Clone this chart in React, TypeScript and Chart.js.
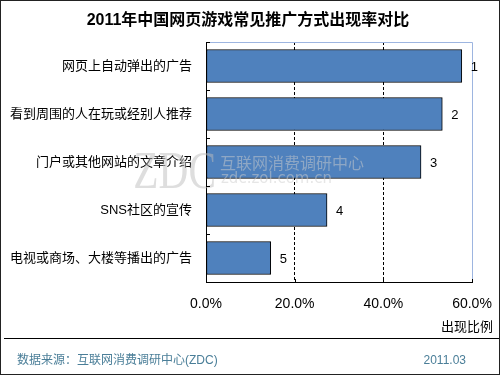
import React, { useEffect, useRef } from "react";
import { Chart, registerables } from "chart.js";

Chart.register(...registerables);

const categories = [
  "网页上自动弹出的广告",
  "看到周围的人在玩或经别人推荐",
  "门户或其他网站的文章介绍",
  "SNS社区的宣传",
  "电视或商场、大楼等播出的广告",
];
const values = [0.577, 0.533, 0.485, 0.273, 0.146];
const rankLabels = ["1", "2", "3", "4", "5"];
const xTicks = [0, 0.2, 0.4, 0.6];
const titleText = "2011年中国网页游戏常见推广方式出现率对比";
const axisTitle = "出现比例";
const sourceText = "数据来源：互联网消费调研中心(ZDC)";
const dateText = "2011.03";

const FONT = '"Liberation Sans", Arial, "Noto Sans CJK SC", sans-serif';

const decorPlugin = {
  id: "decor",
  beforeDraw(chart: any) {
    const { ctx } = chart;
    ctx.save();
    ctx.fillStyle = "#ffffff";
    ctx.fillRect(0, 0, 500, 375);
    ctx.restore();
  },
  afterDatasetsDraw(chart: any) {
    const { ctx, chartArea: a, scales } = chart;
    ctx.save();
    // watermark
    ctx.save();
    ctx.translate(216, 188);
    ctx.scale(0.78, 1);
    ctx.fillStyle = "rgba(190,190,190,0.5)";
    ctx.font = '53px "Liberation Serif", "DejaVu Serif", serif';
    ctx.textAlign = "right";
    ctx.textBaseline = "alphabetic";
    ctx.fillText("ZDC", 0, 0);
    ctx.restore();
    ctx.fillStyle = "rgba(205,205,205,0.5)";
    ctx.font = '16px "Noto Sans CJK SC", sans-serif';
    ctx.textAlign = "left";
    ctx.textBaseline = "middle";
    ctx.fillText("互联网消费调研中心", 220, 163);
    ctx.font = '15px "DejaVu Sans", sans-serif';
    ctx.fillText("zdc.zol.com.cn", 221, 179);

    // top & right border (light blue)
    ctx.strokeStyle = "#9db5e0";
    ctx.lineWidth = 1;
    ctx.beginPath();
    ctx.moveTo(a.left, Math.round(a.top) + 0.5);
    ctx.lineTo(Math.round(a.right) + 0.5, Math.round(a.top) + 0.5);
    ctx.lineTo(Math.round(a.right) + 0.5, a.bottom);
    ctx.stroke();

    // inner tick marks on y axis at category boundaries
    ctx.strokeStyle = "#000";
    ctx.beginPath();
    for (let i = 0; i <= categories.length; i++) {
      const py = Math.round(a.top + ((a.bottom - a.top) * i) / categories.length) + 0.5;
      ctx.moveTo(a.left, py);
      ctx.lineTo(a.left + 4, py);
    }
    // inner tick marks on x axis
    const x = scales.x;
    xTicks.forEach((v) => {
      const px = Math.round(x.getPixelForValue(v)) + 0.5;
      ctx.moveTo(px, a.bottom);
      ctx.lineTo(px, a.bottom - 3);
    });
    ctx.stroke();

    // rank labels
    const meta = chart.getDatasetMeta(0);
    ctx.fillStyle = "#000";
    ctx.font = "13px " + FONT;
    ctx.textAlign = "left";
    ctx.textBaseline = "middle";
    meta.data.forEach((bar: any, i: number) => {
      ctx.fillText(rankLabels[i], bar.x + 9, bar.y + 1);
    });

    // title
    ctx.font = "bold 16px " + FONT;
    ctx.textAlign = "center";
    ctx.fillText(titleText, 248, 21);

    // axis title
    ctx.font = "13px " + FONT;
    ctx.textAlign = "right";
    ctx.fillText(axisTitle, 493, 327);

    // separator
    ctx.strokeStyle = "#000";
    ctx.beginPath();
    ctx.moveTo(4, 338.5);
    ctx.lineTo(499, 338.5);
    ctx.stroke();

    // footer
    ctx.fillStyle = "#4a7e98";
    ctx.font = "12px " + FONT;
    ctx.textAlign = "left";
    ctx.fillText(sourceText, 17, 361);
    ctx.textAlign = "right";
    ctx.fillText(dateText, 466, 361);

    // outer border
    ctx.strokeStyle = "#222";
    ctx.strokeRect(0.5, 0.5, 499, 374);
    ctx.restore();
  },
};

export default function App() {
  const ref = useRef<HTMLCanvasElement>(null);
  useEffect(() => {
    document.body.style.margin = "0";
    const chart = new Chart(ref.current!, {
      type: "bar",
      data: {
        labels: categories,
        datasets: [
          {
            data: values,
            backgroundColor: "#4f81bd",
            borderColor: "#000",
            borderWidth: 1,
            borderSkipped: false,
            barThickness: 33,
          },
        ],
      },
      options: {
        indexAxis: "y",
        responsive: false,
        animation: false,
        events: [],
        layout: { padding: { left: 0, right: 28, top: 42, bottom: 63 } },
        plugins: { legend: { display: false }, tooltip: { enabled: false }, title: { display: false } },
        scales: {
          x: {
            min: 0,
            max: 0.6,
            afterBuildTicks: (s: any) => {
              s.ticks = xTicks.map((v) => ({ value: v }));
            },
            afterFit: (s: any) => {
              s.height = 30;
              s.paddingLeft = 0;
              s.paddingRight = 0;
            },
            ticks: {
              padding: 14,
              color: "#000",
              font: { size: 14, family: FONT },
              maxRotation: 0,
              callback: (v: any) => (Number(v) * 100).toFixed(1) + "%",
            },
            grid: {
              drawTicks: false,
              color: (c: any) =>
                c.tick && (c.tick.value === 0 || Math.abs(c.tick.value - 0.6) < 1e-9) ? "rgba(0,0,0,0)" : "#000",
            },
            border: { display: true, color: "#000", width: 1, dash: [3, 2] },
          },
          y: {
            afterFit: (s: any) => {
              s.width = 206;
            },
            ticks: {
              padding: 14,
              color: "#000",
              font: { size: 13, family: FONT },
            },
            grid: { display: false, drawTicks: false },
            border: { display: true, color: "#000", width: 1 },
          },
        },
      },
      plugins: [decorPlugin],
    });
    return () => chart.destroy();
  }, []);
  return (
    <div style={{ width: 500, height: 375 }}>
      <canvas ref={ref} width={500} height={375} />
    </div>
  );
}
